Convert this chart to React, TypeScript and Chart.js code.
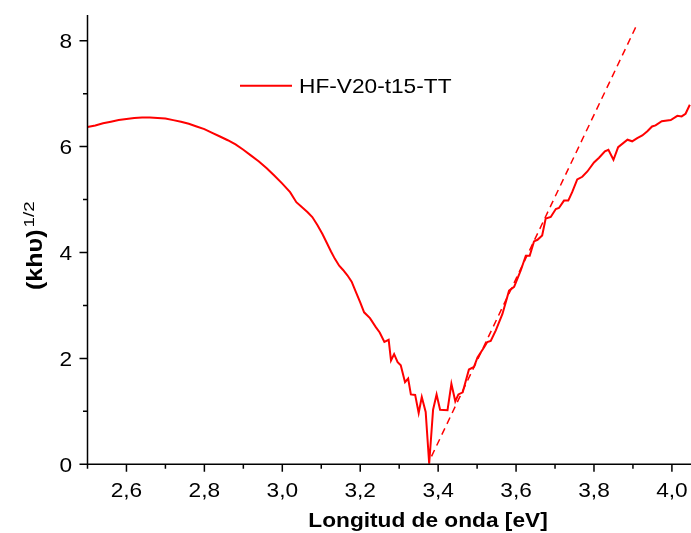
import React, { useEffect, useRef } from "react";
import { Chart, registerables } from "chart.js";

Chart.register(...registerables);

// ---- data ----
const seriesName = "HF-V20-t15-TT";
const energyEv = [
  2.5, 2.52, 2.54, 2.56, 2.58, 2.6, 2.62, 2.64, 2.66, 2.68, 2.7, 2.72, 2.74, 2.76, 2.78,
  2.8, 2.82, 2.84, 2.86, 2.88, 2.9, 2.92, 2.94, 2.96, 2.98, 3.0, 3.02, 3.036, 3.05, 3.065,
  3.077, 3.09, 3.103, 3.115, 3.125, 3.135, 3.146, 3.156, 3.167, 3.178, 3.189, 3.2, 3.21,
  3.225, 3.24, 3.25, 3.262, 3.273, 3.279, 3.287, 3.296, 3.304, 3.315, 3.323, 3.33, 3.341,
  3.35, 3.358, 3.368, 3.377, 3.387, 3.396, 3.405, 3.424, 3.434, 3.444, 3.452, 3.463, 3.479,
  3.492, 3.501, 3.518, 3.526, 3.535, 3.548, 3.565, 3.582, 3.595, 3.612, 3.625, 3.635, 3.646,
  3.655, 3.667, 3.676, 3.689, 3.702, 3.71, 3.723, 3.734, 3.744, 3.757, 3.77, 3.783, 3.8,
  3.813, 3.828, 3.837, 3.85, 3.862, 3.886, 3.898, 3.911, 3.924, 3.937, 3.949, 3.958, 3.974,
  3.997, 4.014, 4.025, 4.035, 4.046,
];
const sqrtKhv = [
  6.37, 6.4, 6.44, 6.47, 6.5, 6.52, 6.54, 6.55, 6.55, 6.54, 6.53, 6.5, 6.47, 6.43, 6.38,
  6.33, 6.26, 6.19, 6.12, 6.04, 5.94, 5.83, 5.72, 5.59, 5.45, 5.3, 5.14, 4.95, 4.86, 4.76,
  4.67, 4.52, 4.35, 4.17, 4.02, 3.88, 3.75, 3.67, 3.57, 3.45, 3.25, 3.06, 2.87,
  2.76, 2.59, 2.49, 2.31, 2.35, 1.96, 2.08, 1.93, 1.87, 1.55, 1.62, 1.32, 1.31,
  0.97, 1.27, 0.99, 0.01, 1.03, 1.32, 1.03, 1.02, 1.52, 1.19, 1.32, 1.36, 1.79,
  1.84, 2.02, 2.21, 2.31, 2.33, 2.53, 2.84, 3.28, 3.35, 3.66, 3.94, 3.94, 4.21,
  4.24, 4.32, 4.64, 4.67, 4.82, 4.84, 4.98, 4.98, 5.14, 5.38, 5.43, 5.53, 5.7,
  5.79, 5.91, 5.94, 5.75, 5.99, 6.13, 6.1, 6.16, 6.21, 6.29, 6.38, 6.4, 6.48,
  6.5, 6.58, 6.57, 6.62, 6.79,
];
// linear fit (Tauc extrapolation), dashed
const fitX = [3.383, 3.912];
const fitY = [0.15, 8.33];

const xMajorTicks = [2.6, 2.8, 3.0, 3.2, 3.4, 3.6, 3.8, 4.0];
const xMajorLabels = ["2,6", "2,8", "3,0", "3,2", "3,4", "3,6", "3,8", "4,0"];
const xMinorTicks = [2.5, 2.7, 2.9, 3.1, 3.3, 3.5, 3.7, 3.9];
const yMajorTicks = [0, 2, 4, 6, 8];
const yMajorLabels = ["0", "2", "4", "6", "8"];
const yMinorTicks = [1, 3, 5, 7];

const xTitle = "Longitud de onda [eV]";
const yTitleMain = "(khυ)";
const yTitleSup = "1/2";

const FAMILY = '"Liberation Sans", Arial, sans-serif';
const SX = 1.08;

function drawText(
  ctx: CanvasRenderingContext2D,
  s: string,
  x: number,
  y: number,
  font: string,
  align: "left" | "center" | "right",
  sx = SX
) {
  ctx.save();
  ctx.font = font;
  ctx.textAlign = "left";
  ctx.textBaseline = "alphabetic";
  const w = ctx.measureText(s).width * sx;
  const x0 = align === "center" ? x - w / 2 : align === "right" ? x - w : x;
  ctx.translate(x0, y);
  ctx.scale(sx, 1);
  ctx.fillStyle = "#000";
  ctx.fillText(s, 0, 0);
  ctx.restore();
  return w;
}

const decorPlugin = {
  id: "decor",
  afterDatasetsDraw(chart: any) {
    const ctx: CanvasRenderingContext2D = chart.ctx;
    const xs = chart.scales.x;
    const ys = chart.scales.y;
    const { left, right, top, bottom } = chart.chartArea;
    ctx.save();
    ctx.strokeStyle = "#000";
    ctx.lineWidth = 1.5;
    // axes
    ctx.beginPath();
    ctx.moveTo(left, top);
    ctx.lineTo(left, bottom);
    ctx.lineTo(right, bottom);
    ctx.stroke();
    // ticks
    ctx.beginPath();
    xMajorTicks.forEach((v) => {
      const px = xs.getPixelForValue(v);
      ctx.moveTo(px, bottom);
      ctx.lineTo(px, bottom + 7.5);
    });
    xMinorTicks.forEach((v) => {
      const px = xs.getPixelForValue(v);
      ctx.moveTo(px, bottom);
      ctx.lineTo(px, bottom + 4.5);
    });
    yMajorTicks.forEach((v) => {
      const py = ys.getPixelForValue(v);
      ctx.moveTo(left, py);
      ctx.lineTo(left - 8, py);
    });
    yMinorTicks.forEach((v) => {
      const py = ys.getPixelForValue(v);
      ctx.moveTo(left, py);
      ctx.lineTo(left - 4.5, py);
    });
    ctx.stroke();
    ctx.restore();

    const tickFont = `21px ${FAMILY}`;
    xMajorTicks.forEach((v, i) => {
      drawText(ctx, xMajorLabels[i], xs.getPixelForValue(v), bottom + 33, tickFont, "center");
    });
    yMajorTicks.forEach((v, i) => {
      drawText(ctx, yMajorLabels[i], left - 15.5, ys.getPixelForValue(v) + 7.3, tickFont, "right");
    });

    // x title
    drawText(ctx, xTitle, 428, 527, `bold 21px ${FAMILY}`, "center");

    // y title, rotated, with superscript
    ctx.save();
    ctx.translate(42, 290);
    ctx.rotate(-Math.PI / 2);
    const w = drawText(ctx, yTitleMain, 0, 0, `bold 22px ${FAMILY}`, "left", 1.14);
    drawText(ctx, yTitleSup, w + 2, -8, `15px ${FAMILY}`, "left", 1.25);
    ctx.restore();

    // legend
    ctx.save();
    ctx.strokeStyle = "#ff0000";
    ctx.lineWidth = 2;
    ctx.beginPath();
    ctx.moveTo(240, 85.7);
    ctx.lineTo(292, 85.7);
    ctx.stroke();
    ctx.restore();
    drawText(ctx, seriesName, 299, 93.3, `21px ${FAMILY}`, "left");
  },
};

export default function App() {
  const ref = useRef<HTMLCanvasElement | null>(null);
  useEffect(() => {
    if (!ref.current) return;
    const mainData = energyEv.map((x, i) => ({ x, y: sqrtKhv[i] }));
    const fitData = fitX.map((x, i) => ({ x, y: fitY[i] }));
    const chart = new Chart(ref.current, {
      type: "line",
      data: {
        datasets: [
          {
            label: seriesName,
            data: mainData,
            borderColor: "#ff0000",
            borderWidth: 2,
            pointRadius: 0,
            tension: 0,
            fill: false,
          },
          {
            label: "fit",
            data: fitData,
            borderColor: "#ff0000",
            borderWidth: 1.5,
            borderDash: [7, 5],
            pointRadius: 0,
            tension: 0,
            fill: false,
          },
        ],
      },
      options: {
        animation: false,
        responsive: false,
        maintainAspectRatio: false,
        devicePixelRatio: 1,
        layout: { padding: { left: 87.5, top: 15, right: 0, bottom: 68.7 } },
        scales: {
          x: { type: "linear", min: 2.5, max: 4.049, display: false },
          y: { type: "linear", min: 0, max: 8.485, display: false },
        },
        plugins: {
          legend: { display: false },
          tooltip: { enabled: false },
        },
      },
      plugins: [decorPlugin],
    });
    return () => chart.destroy();
  }, []);
  return (
    <div style={{ position: "fixed", left: 0, top: 0, width: 691, height: 533, background: "#fff" }}>
      <canvas ref={ref} width={691} height={533} style={{ width: 691, height: 533, display: "block" }} />
    </div>
  );
}
